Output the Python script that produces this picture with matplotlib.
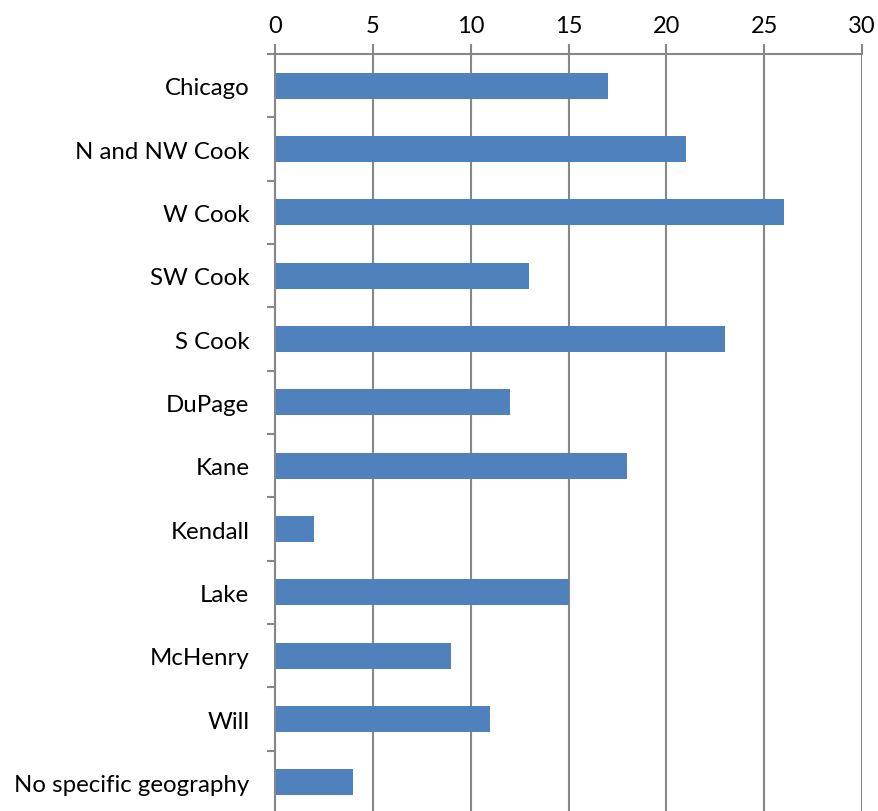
import matplotlib
matplotlib.use("Agg")
import matplotlib.pyplot as plt

categories = ["Chicago", "N and NW Cook", "W Cook", "SW Cook", "S Cook", "DuPage",
              "Kane", "Kendall", "Lake", "McHenry", "Will", "No specific geography"]
values = [17, 21, 26, 13, 23, 12, 18, 2, 15, 9, 11, 4]
xticks = [0, 5, 10, 15, 20, 25, 30]

plt.rcParams['font.family'] = ['Lato', 'DejaVu Sans']

W, H = 879, 812
fig = plt.figure(figsize=(W / 100, H / 100), dpi=100)
left, right, top, bottom = 275, 862, 55, 815
ax = fig.add_axes([left / W, 1 - bottom / H, (right - left) / W, (bottom - top) / H])

n = len(categories)
pos = list(range(n))
ax.barh(pos, values, height=0.41, color="#4F81BD", zorder=3)
ax.set_ylim(n - 0.5, -0.5)
ax.set_xlim(0, 30)

grid_c = "#878787"
ax.set_xticks(xticks)
ax.set_xticklabels([str(t) for t in xticks])
ax.xaxis.tick_top()
ax.tick_params(axis="x", direction="out", length=7, width=1.5, color=grid_c,
               labelsize=17, pad=6, labelcolor="black")
ax.grid(axis="x", color=grid_c, linewidth=1.5, zorder=0)

ax.set_yticks(pos)
ax.set_yticklabels(categories)
ax.tick_params(axis="y", which="major", length=0, labelsize=17.3, pad=18.5)
ax.set_yticks([i + 0.5 for i in range(-1, n)], minor=True)
ax.tick_params(axis="y", which="minor", direction="out", length=6, width=1.5, color=grid_c)

for s in ["right", "bottom"]:
    ax.spines[s].set_visible(False)
for s in ["top", "left"]:
    ax.spines[s].set_color(grid_c)
    ax.spines[s].set_linewidth(1.5)
    ax.spines[s].set_zorder(4)

fig.savefig("out.png", dpi=100)
